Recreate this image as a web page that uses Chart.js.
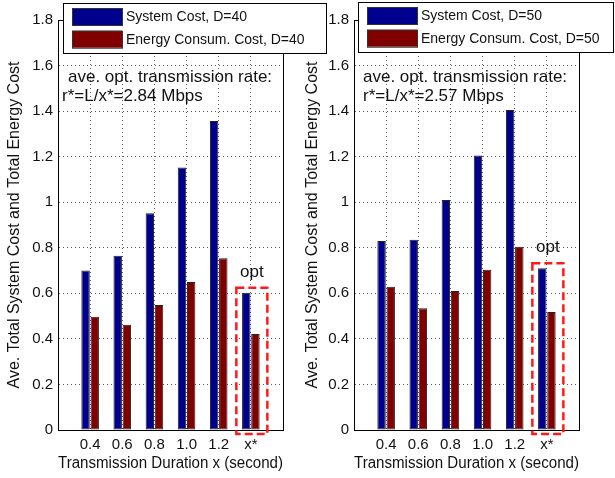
<!DOCTYPE html>
<html>
<head>
<meta charset="utf-8">
<script src="https://cdn.jsdelivr.net/npm/chart.js@4.4.1/dist/chart.umd.min.js"></script>
<style>
  html, body { margin: 0; padding: 0; background: #fff; }
  #wrap { position: relative; width: 615px; height: 478px; }
  canvas { position: absolute; left: 0; top: 0; }
</style>
</head>
<body>
<div id="wrap">
  <canvas id="chartD40" width="615" height="478"></canvas>
  <canvas id="chartD50" width="615" height="478"></canvas>
</div>
<script>
// categorias del eje x (duracion de transmision)
const durations = ["0.4", "0.6", "0.8", "1.0", "1.2", "x*"];

// valores
const systemCostD40 = [0.700, 0.765, 0.952, 1.152, 1.357, 0.603];
const energyCostD40 = [0.497, 0.462, 0.549, 0.650, 0.754, 0.421];
const systemCostD50 = [0.830, 0.835, 1.010, 1.205, 1.405, 0.710];
const energyCostD50 = [0.629, 0.534, 0.610, 0.703, 0.805, 0.518];

const rateTextD40 = ["ave. opt. transmission rate:", "r*=L/x*=2.84 Mbps"];
const rateTextD50 = ["ave. opt. transmission rate:", "r*=L/x*=2.57 Mbps"];

const yTicks = [0, 0.2, 0.4, 0.6, 0.8, 1, 1.2, 1.4, 1.6, 1.8];

const FONT = "'Liberation Sans', Arial, Helvetica, sans-serif";
const TXT = "#111";
Chart.defaults.font.family = FONT;
Chart.defaults.color = TXT;

// el eje tiene un hueco a cada lado, como en matlab
const labels = ["", ...durations, ""];
const pad = arr => [null, ...arr, null];

const extras = {
  id: "extras",
  afterDatasetsDraw(chart, args, opts) {
    const ctx = chart.ctx;
    const xs = chart.scales.x, ys = chart.scales.y;
    const idx = labels.indexOf("x*");
    const px = xs.getPixelForValue(idx);
    const top = Math.min(...chart.data.datasets.map(d => ys.getPixelForValue(d.data[idx]))) - 5;
    const bottom = chart.chartArea.bottom + 4;
    ctx.save();
    ctx.strokeStyle = "#ff1a1a";
    ctx.lineWidth = 2.5;
    ctx.setLineDash([8, 4]);
    ctx.strokeRect(px - 14.5, top, 31, bottom - top);
    ctx.setLineDash([]);
    ctx.fillStyle = TXT;
    ctx.font = "17px " + FONT;
    ctx.textAlign = "center";
    ctx.textBaseline = "alphabetic";
    ctx.fillText("opt", px + 1, top - 11);
    ctx.restore();
  },
  afterDraw(chart, args, opts) {
    const ctx = chart.ctx;
    const a = chart.chartArea;
    ctx.save();
    // marco del eje
    ctx.strokeStyle = "#000";
    ctx.lineWidth = 1;
    ctx.beginPath();
    ctx.moveTo(a.left, a.top + 0.5);
    ctx.lineTo(a.right + 0.5, a.top + 0.5);
    ctx.lineTo(a.right + 0.5, a.bottom);
    ctx.stroke();

    // texto de la tasa optima
    ctx.fillStyle = TXT;
    ctx.font = "17px " + FONT;
    ctx.textAlign = "left";
    ctx.textBaseline = "alphabetic";
    opts.note.forEach((t, i) => ctx.fillText(t, opts.noteX[i], 82 + i * 19));

    // leyenda con caja
    const L = opts.legend;
    ctx.fillStyle = "#fff";
    ctx.fillRect(L.x, L.y, L.w, L.h);
    ctx.strokeRect(L.x + 0.5, L.y + 0.5, L.w, L.h);
    ctx.font = "14px " + FONT;
    ctx.textBaseline = "middle";
    chart.data.datasets.forEach((ds, i) => {
      const sy = L.y + 5 + i * 22.7;
      ctx.fillStyle = ds.backgroundColor;
      ctx.fillRect(L.x + 9, sy, 50, 17);
      ctx.strokeStyle = "#333";
      ctx.strokeRect(L.x + 9.5, sy + 0.5, 50, 17);
      ctx.fillStyle = TXT;
      ctx.fillText(ds.label, L.x + 63, sy + 9);
    });
    ctx.restore();
  }
};

function makeChart(id, sys, energy, D, note, noteX, legend, left, axisW, right, titlePad) {
  const ctx = document.getElementById(id).getContext("2d");
  return new Chart(ctx, {
    type: "bar",
    data: {
      labels: labels,
      datasets: [{
        label: "System Cost, D=" + D,
        data: pad(sys),
        backgroundColor: "#00008f",
        borderColor: "#222",
        borderWidth: 1,
        borderSkipped: false
      }, {
        label: "Energy Consum. Cost, D=" + D,
        data: pad(energy),
        backgroundColor: "#800000",
        borderColor: "#222",
        borderWidth: 1,
        borderSkipped: false
      }]
    },
    options: {
      responsive: false,
      animation: false,
      categoryPercentage: 0.57,
      barPercentage: 0.92,
      layout: { padding: { left: left, right: right, top: 20, bottom: 0 } },
      plugins: {
        legend: { display: false },
        tooltip: { enabled: false },
        extras: { note: note, noteX: noteX, legend: legend }
      },
      scales: {
        x: {
          offset: false,
          grid: { offset: false, color: "rgba(0,0,0,0.65)", drawTicks: false },
          border: { display: true, color: "#000", width: 1, dash: [1, 3] },
          ticks: { autoSkip: false, maxRotation: 0, padding: 6, font: { size: 15 }, color: TXT },
          title: { display: true, text: "Transmission Duration x (second)", font: { size: 16 }, color: TXT, padding: { top: 0, bottom: 5 } },
          afterFit: s => { s.height = 48; }
        },
        y: {
          min: 0,
          max: 1.8,
          afterBuildTicks: s => { s.ticks = yTicks.map(v => ({ value: v })); },
          grid: { color: "rgba(0,0,0,0.65)", drawTicks: false },
          border: { display: true, color: "#000", width: 1, dash: [1, 3] },
          ticks: { padding: 5, font: { size: 15 }, color: TXT, callback: v => String(+v.toFixed(1)) },
          title: { display: true, text: "Ave. Total System Cost and Total Energy Cost", font: { size: 16 }, color: TXT, padding: { top: titlePad, bottom: 0 } },
          afterFit: s => { s.width = axisW; }
        }
      }
    },
    plugins: [extras]
  });
}

makeChart("chartD40", systemCostD40, energyCostD40, 40, rateTextD40, [68, 62],
  { x: 63, y: 3, w: 263, h: 50 }, 0, 58, 332, 5);
makeChart("chartD50", systemCostD50, energyCostD50, 50, rateTextD50, [363, 363],
  { x: 358, y: 2, w: 255, h: 50 }, 299, 55, 36, 4);
</script>
</body>
</html>
